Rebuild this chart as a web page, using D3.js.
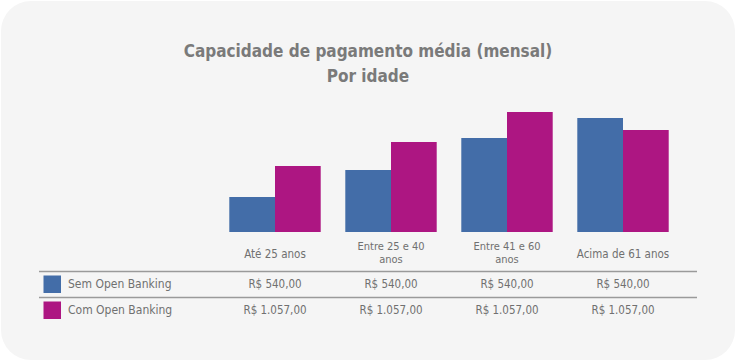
<!DOCTYPE html>
<html>
<head>
<meta charset="utf-8">
<script src="https://cdn.jsdelivr.net/npm/d3@7"></script>
<style>
  html, body { margin: 0; padding: 0; background: #ffffff; }
  svg { display: block; }
  text { font-family: "DejaVu Sans Condensed", "DejaVu Sans", sans-serif; }
</style>
</head>
<body>
<div id="hook-chart"></div>
<script>
'use strict';

var categories = [['Até 25 anos'], ['Entre 25 e 40', 'anos'], ['Entre 41 e 60', 'anos'], ['Acima de 61 anos']];
var seriesNames = ['Sem Open Banking', 'Com Open Banking'];
var semValues = [35, 62, 94, 114];
var comValues = [66, 90, 120, 102];
var semLabels = ['R$ 540,00', 'R$ 540,00', 'R$ 540,00', 'R$ 540,00'];
var comLabels = ['R$ 1.057,00', 'R$ 1.057,00', 'R$ 1.057,00', 'R$ 1.057,00'];
var colors = ['#436da8', '#ad1682'];

var width = 736,
  height = 361;

var svg = d3.select('#hook-chart')
  .append('svg')
  .attr('width', width)
  .attr('height', height);

// card background
svg.append('rect')
  .attr('x', 1)
  .attr('y', 1)
  .attr('width', width - 2)
  .attr('height', height - 2)
  .attr('rx', 30)
  .attr('ry', 30)
  .style('fill', '#f5f5f5');

// title
var title = svg.append('text')
  .attr('text-anchor', 'middle')
  .style('fill', '#7a7a7a')
  .style('font-size', '17px')
  .style('font-weight', 'bold');
title.append('tspan').attr('x', 368).attr('y', 57).text('Capacidade de pagamento média (mensal)');
title.append('tspan').attr('x', 368).attr('y', 82).text('Por idade');

var x0 = d3.scaleBand()
  .domain(d3.range(categories.length))
  .range([217, 681])
  .paddingInner(0.212)
  .paddingOuter(0.106);

var x1 = d3.scaleBand()
  .domain([0, 1])
  .range([0, x0.bandwidth()]);

var y = d3.scaleLinear()
  .domain([0, 120])
  .range([232, 112]);

var series = [semValues, comValues];

series.forEach(function(vals, s) {
  svg.append('g')
    .selectAll('rect')
    .data(vals)
    .enter()
    .append('rect')
    .attr('x', function(d, i) { return x0(i) + x1(s); })
    .attr('y', function(d) { return y(d); })
    .attr('width', x1.bandwidth())
    .attr('height', function(d) { return y(0) - y(d); })
    .style('fill', colors[s]);
});

// category labels (two-line ones are separate texts)
var catG = svg.append('g');
categories.forEach(function(lines, i) {
  var cx = x0(i) + x0.bandwidth() / 2;
  var single = lines.length === 1;
  lines.forEach(function(line, k) {
    catG.append('text')
      .attr('x', cx)
      .attr('y', single ? 258 : 249.5 + k * 13)
      .attr('text-anchor', 'middle')
      .style('fill', '#707070')
      .style('font-size', single ? '11.5px' : '11px')
      .text(line);
  });
});

// table lines
[271.5, 297.5].forEach(function(ly) {
  svg.append('line')
    .attr('x1', 39)
    .attr('x2', 697)
    .attr('y1', ly)
    .attr('y2', ly)
    .style('stroke', '#9a9a9a')
    .style('stroke-width', 1.3);
});

// legend rows
var rowY = [284, 310];
var rowLabels = [semLabels, comLabels];
seriesNames.forEach(function(name, s) {
  svg.append('rect')
    .attr('x', 43.5)
    .attr('y', rowY[s] - 8.5)
    .attr('width', 17.5)
    .attr('height', 17.5)
    .style('fill', colors[s]);

  svg.append('text')
    .attr('x', 68)
    .attr('y', rowY[s] + 4)
    .style('fill', '#707070')
    .style('font-size', '12px')
    .text(name);

  svg.append('g')
    .selectAll('text')
    .data(rowLabels[s])
    .enter()
    .append('text')
    .attr('x', function(d, i) { return x0(i) + x0.bandwidth() / 2; })
    .attr('y', rowY[s] + 4)
    .attr('text-anchor', 'middle')
    .style('fill', '#707070')
    .style('font-size', '11.5px')
    .text(function(d) { return d; });
});
</script>
</body>
</html>
